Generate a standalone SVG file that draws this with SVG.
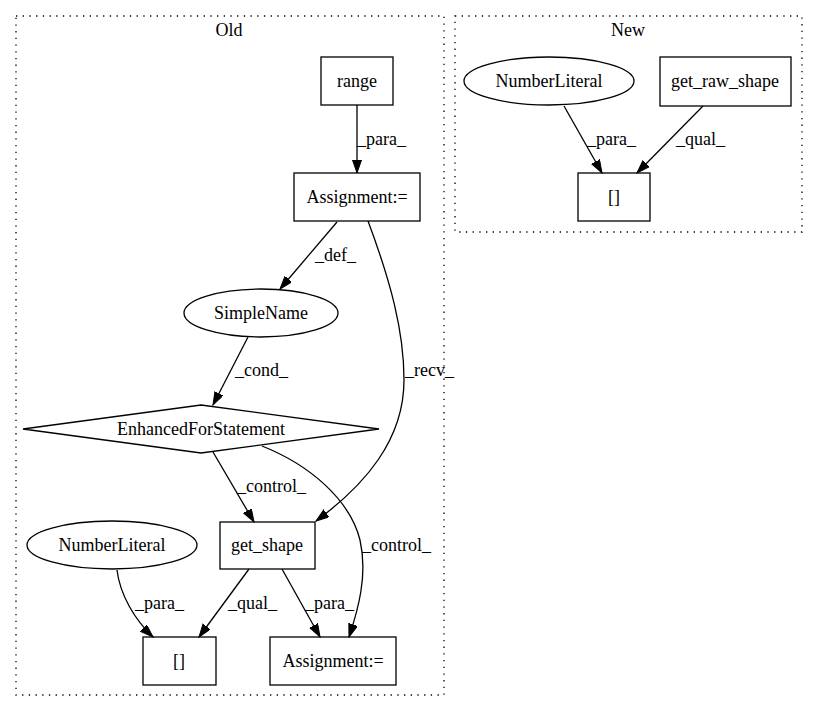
<svg xmlns="http://www.w3.org/2000/svg" width="817" height="712" viewBox="0 0 817 712">
<style>
text{font-family:"Liberation Serif","Times New Roman",serif;font-size:18px;fill:#000}
.n{fill:none;stroke:#000;stroke-width:1.3}
.c{fill:none;stroke:#000;stroke-width:1.3;stroke-dasharray:1.3,5.4}
.e{fill:none;stroke:#000;stroke-width:1.3;marker-end:url(#ah)}
.m{text-anchor:middle}
</style>
<defs>
<marker id="ah" markerWidth="14" markerHeight="10" refX="13" refY="4.5" orient="auto" markerUnits="userSpaceOnUse">
<path d="M0,0 L13,4.5 L0,9 z" fill="#000" stroke="#000" stroke-width="1"/>
</marker>
</defs>
<rect width="817" height="712" fill="#fff"/>
<g id="cluster_old">
<rect class="c" x="16" y="16" width="428" height="679"/>
<text class="m" x="229" y="36">Old</text>
</g>
<g id="cluster_new">
<rect class="c" x="455" y="16" width="347" height="216"/>
<text class="m" x="628" y="36">New</text>
</g>
<g id="old_range"><rect class="n" x="321" y="57" width="72" height="48"/><text class="m" x="357" y="87">range</text></g>
<g id="old_assign1"><rect class="n" x="294" y="173" width="126" height="48"/><text class="m" x="357" y="203">Assignment:=</text></g>
<g id="old_simplename"><ellipse class="n" cx="261" cy="313" rx="77" ry="24"/><text class="m" x="261" y="319">SimpleName</text></g>
<g id="old_for"><polygon class="n" points="201,405 379,429 201,453 23,429"/><text class="m" x="201" y="435">EnhancedForStatement</text></g>
<g id="old_getshape"><rect class="n" x="220" y="522" width="95" height="47"/><text class="m" x="267" y="551">get_shape</text></g>
<g id="old_numlit"><ellipse class="n" cx="112" cy="545" rx="85" ry="24"/><text class="m" x="112" y="551">NumberLiteral</text></g>
<g id="old_index"><rect class="n" x="143" y="637" width="73" height="48"/><text class="m" x="179" y="667">[]</text></g>
<g id="old_assign2"><rect class="n" x="270" y="637" width="126" height="48"/><text class="m" x="333" y="667">Assignment:=</text></g>
<g id="new_numlit"><ellipse class="n" cx="549" cy="81" rx="85" ry="24"/><text class="m" x="549" y="87">NumberLiteral</text></g>
<g id="new_getraw"><rect class="n" x="660" y="57" width="131" height="49"/><text class="m" x="725" y="87">get_raw_shape</text></g>
<g id="new_index"><rect class="n" x="578" y="173" width="72" height="48"/><text class="m" x="614" y="203">[]</text></g>
<g id="edges">
<path class="e" d="M357,105 L357,173"/>
<text x="357" y="145">_para_</text>
<path class="e" d="M337,222 L280,289"/>
<text x="315" y="261">_def_</text>
<path class="e" d="M368,221 C390,280 404,330 404,380 C404,440 365,485 316,521"/>
<text x="405" y="376">_recv_</text>
<path class="e" d="M248,337 L213,405"/>
<text x="235" y="376">_cond_</text>
<path class="e" d="M213,452 L254,522"/>
<text x="237" y="492">_control_</text>
<path class="e" d="M262,446 C310,465 350,500 360,540 C368,575 358,610 349,637"/>
<text x="362" y="551">_control_</text>
<path class="e" d="M117,570 C120,595 135,620 153,637"/>
<text x="135" y="609">_para_</text>
<path class="e" d="M249,569 L199,637"/>
<text x="228" y="609">_qual_</text>
<path class="e" d="M282,569 L320,637"/>
<text x="305" y="609">_para_</text>
<path class="e" d="M564,106 L602,173"/>
<text x="587" y="145">_para_</text>
<path class="e" d="M703,106 L637,173"/>
<text x="676" y="145">_qual_</text>
</g>
</svg>
